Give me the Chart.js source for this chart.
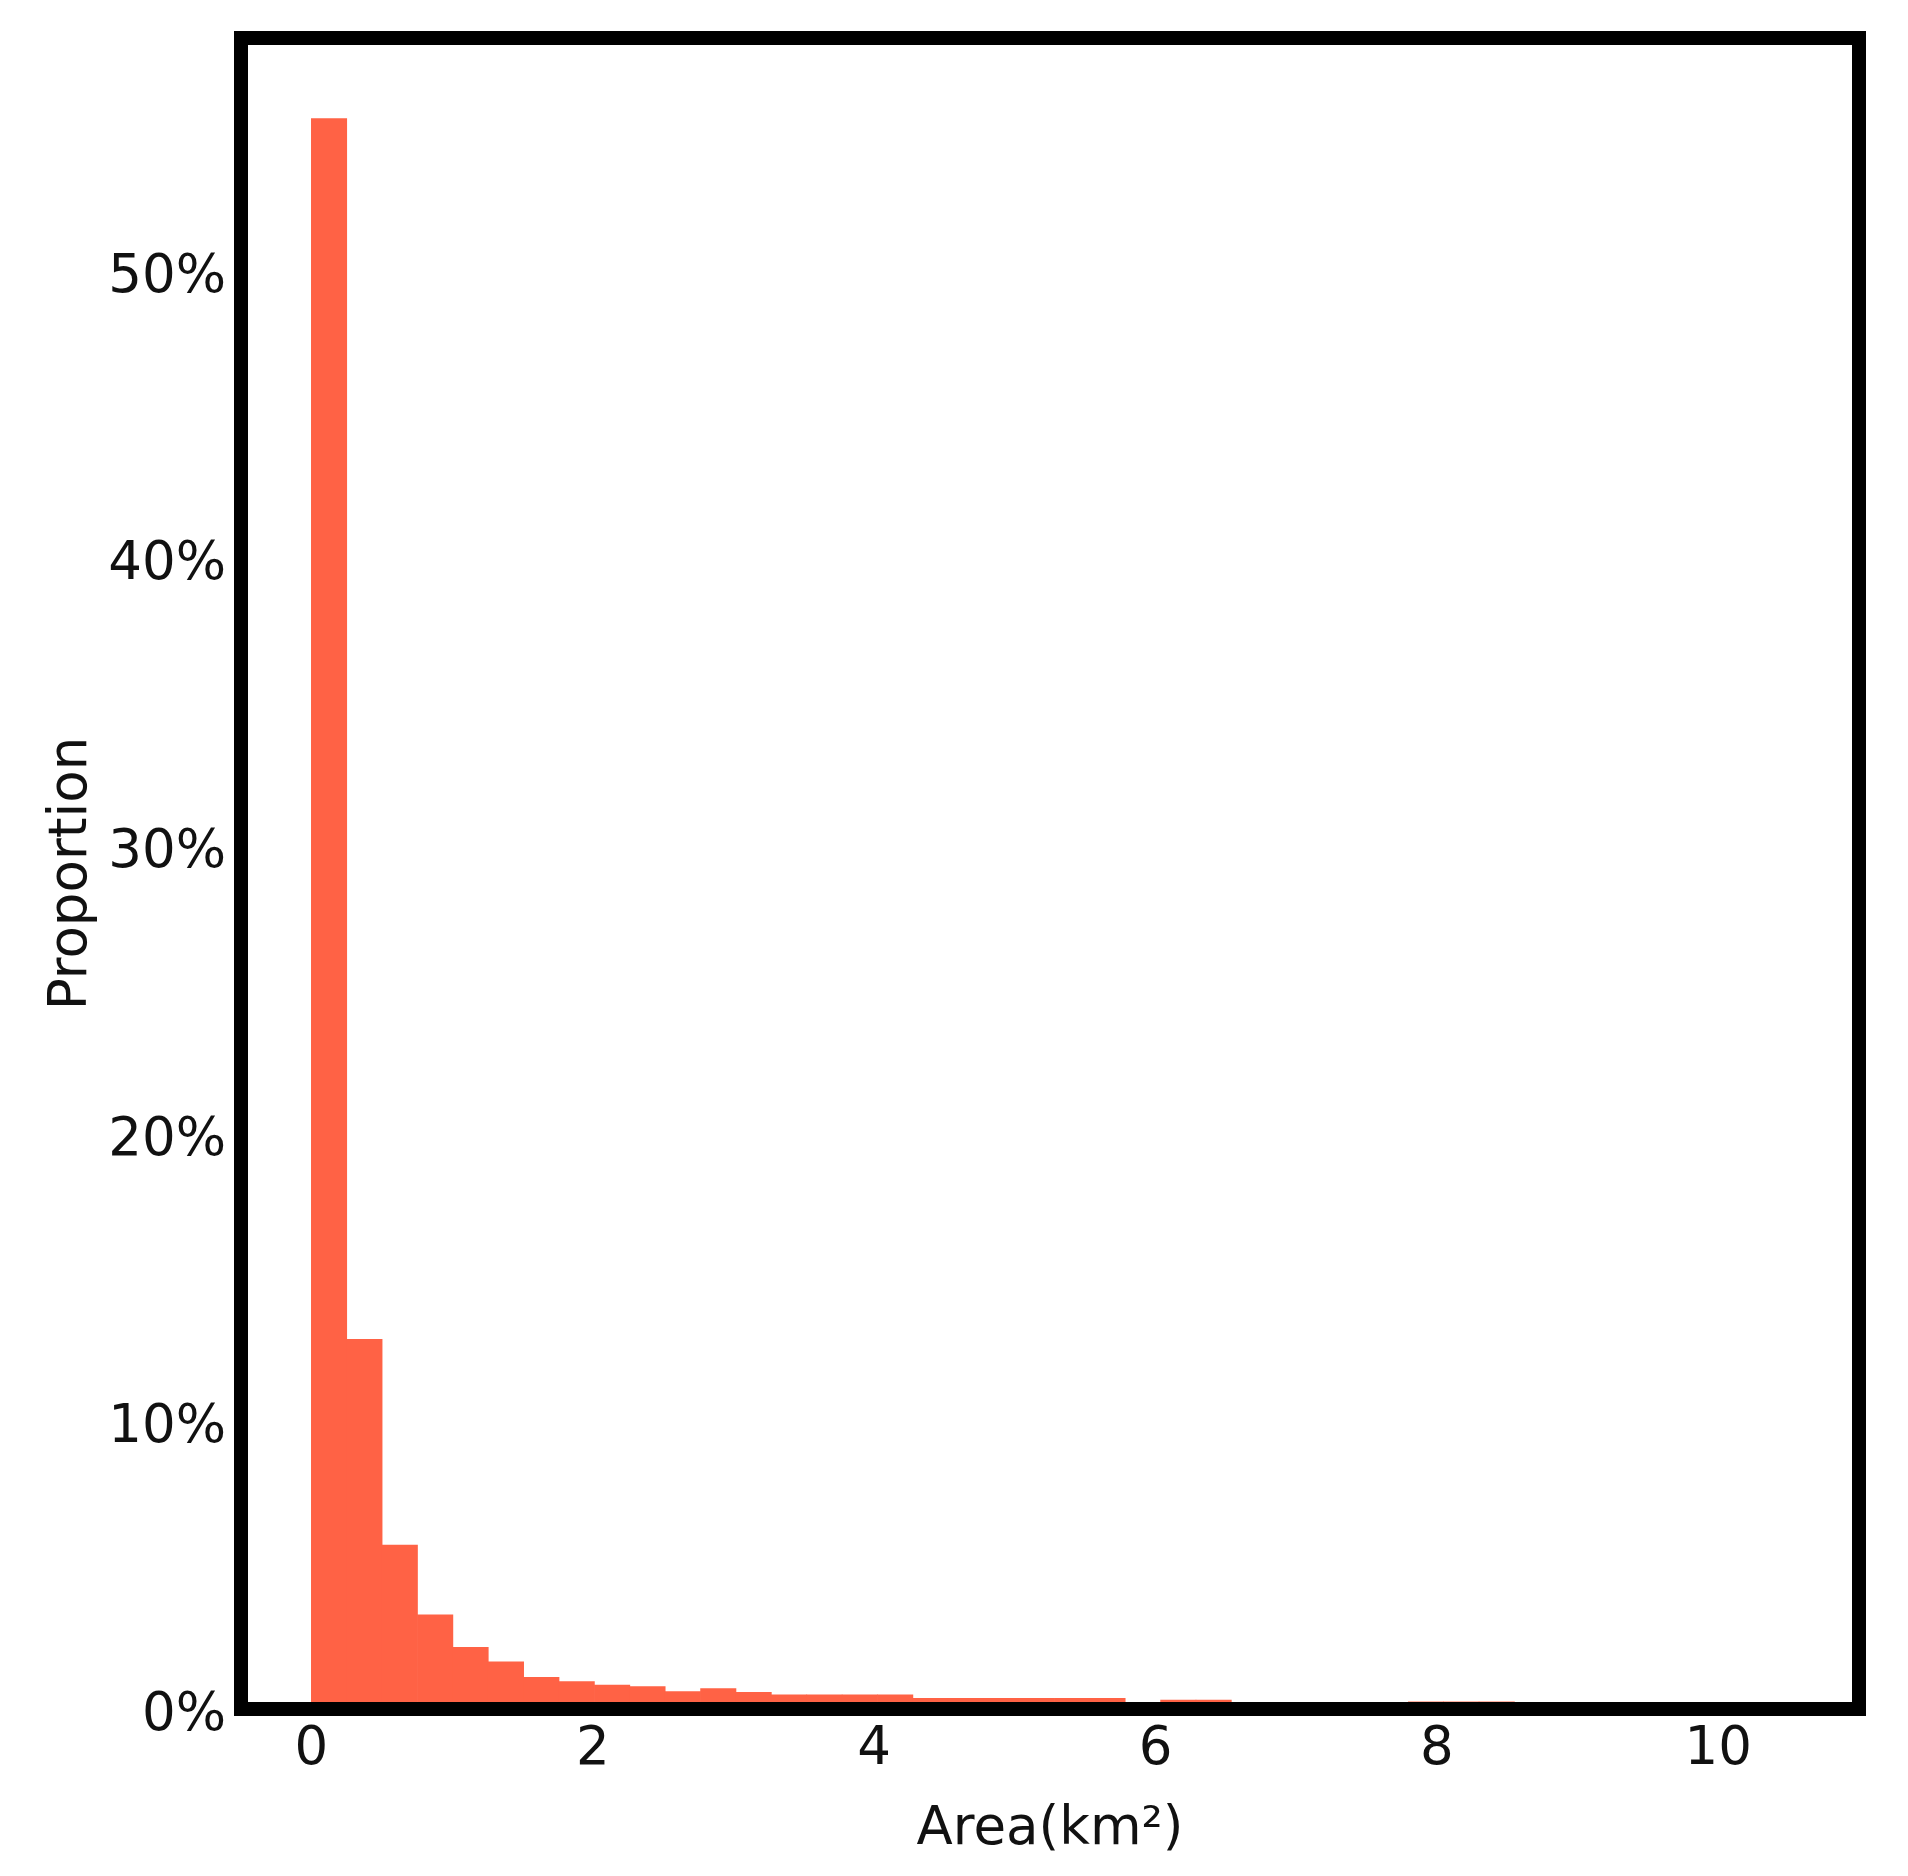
<!DOCTYPE html>
<html>
<head>
<meta charset="utf-8">
<title>Area distribution</title>
<script src="https://cdn.jsdelivr.net/npm/chart.js@4.4.1/dist/chart.umd.min.js"></script>
<style>
  html, body { margin: 0; padding: 0; background: #ffffff; }
  #wrap { width: 1908px; height: 1876px; }
</style>
</head>
<body>
<div id="wrap"><canvas id="hist" width="1908" height="1876"></canvas></div>
<script>
// histogram bins (km^2), bin width
const binStart = 0;
const binWidth = 0.2515;

// proportion of polygons in each bin (%)
const proportions = [
  55.3, 12.85, 5.70, 3.27, 2.14, 1.64, 1.10, 0.95, 0.83, 0.78,
  0.61, 0.71, 0.58, 0.49, 0.49, 0.49, 0.49, 0.37, 0.37, 0.37,
  0.37, 0.37, 0.37, 0.18, 0.31, 0.31, 0.15, 0.12, 0.12, 0.10,
  0.10, 0.25, 0.25, 0.25, 0.08, 0.06, 0.05, 0.05, 0.04, 0.04
];

// tick labels
const xTicks = [0, 2, 4, 6, 8, 10];
const yTicks = [0, 10, 20, 30, 40, 50];

const xLimits = [-0.5, 11.0];
const yLimits = [0, 58.1];

const barColor = '#ff6245';
const textColor = '#111111';
const fontFamily = '"DejaVu Sans", "Liberation Sans", sans-serif';

// bin centres -> points
const points = proportions.map((p, i) => ({ x: binStart + binWidth * (i + 0.5), y: p }));

// black box around the plot, drawn over the bars like matplotlib spines
const framePlugin = {
  id: 'frame',
  afterDatasetsDraw(chart) {
    const a = chart.chartArea;
    const ctx = chart.ctx;
    ctx.save();
    ctx.strokeStyle = '#000000';
    ctx.lineWidth = 14;
    ctx.lineJoin = 'miter';
    ctx.strokeRect(a.left, a.top, a.right - a.left, a.bottom - a.top);
    ctx.restore();
  }
};

const ctx = document.getElementById('hist').getContext('2d');
new Chart(ctx, {
  type: 'bar',
  data: {
    datasets: [{
      label: 'Proportion',
      data: points,
      backgroundColor: barColor,
      borderWidth: 0,
      categoryPercentage: 1.0,
      barPercentage: 1.0
    }]
  },
  options: {
    responsive: false,
    animation: false,
    layout: { padding: { top: 38, right: 49, left: 0, bottom: 0 } },
    plugins: {
      legend: { display: false },
      tooltip: { enabled: false }
    },
    scales: {
      x: {
        type: 'linear',
        offset: false,
        min: xLimits[0],
        max: xLimits[1],
        grid: { display: false, drawTicks: true, tickLength: 9 },
        border: { display: false },
        afterBuildTicks: (scale) => { scale.ticks = xTicks.map(v => ({ value: v })); },
        afterFit: (scale) => { scale.height = 167; },
        ticks: {
          padding: 0,
          color: textColor,
          font: { family: fontFamily, size: 53 },
          callback: (v) => String(v)
        },
        title: {
          display: true,
          text: 'Area(km²)',
          color: textColor,
          font: { family: fontFamily, size: 53 },
          padding: { top: 0, bottom: 14 }
        }
      },
      y: {
        min: yLimits[0],
        max: yLimits[1],
        grid: { display: false, drawTicks: true, tickLength: 15 },
        border: { display: false },
        afterBuildTicks: (scale) => { scale.ticks = yTicks.map(v => ({ value: v })); },
        afterFit: (scale) => { scale.width = 241; },
        ticks: {
          padding: 0,
          labelOffset: 7,
          color: textColor,
          font: { family: fontFamily, size: 53 },
          callback: (v) => v + '%'
        },
        title: {
          display: true,
          text: 'Proportion',
          color: textColor,
          font: { family: fontFamily, size: 53 },
          padding: { top: 40, bottom: 0 }
        }
      }
    }
  },
  plugins: [framePlugin]
});
</script>
</body>
</html>
